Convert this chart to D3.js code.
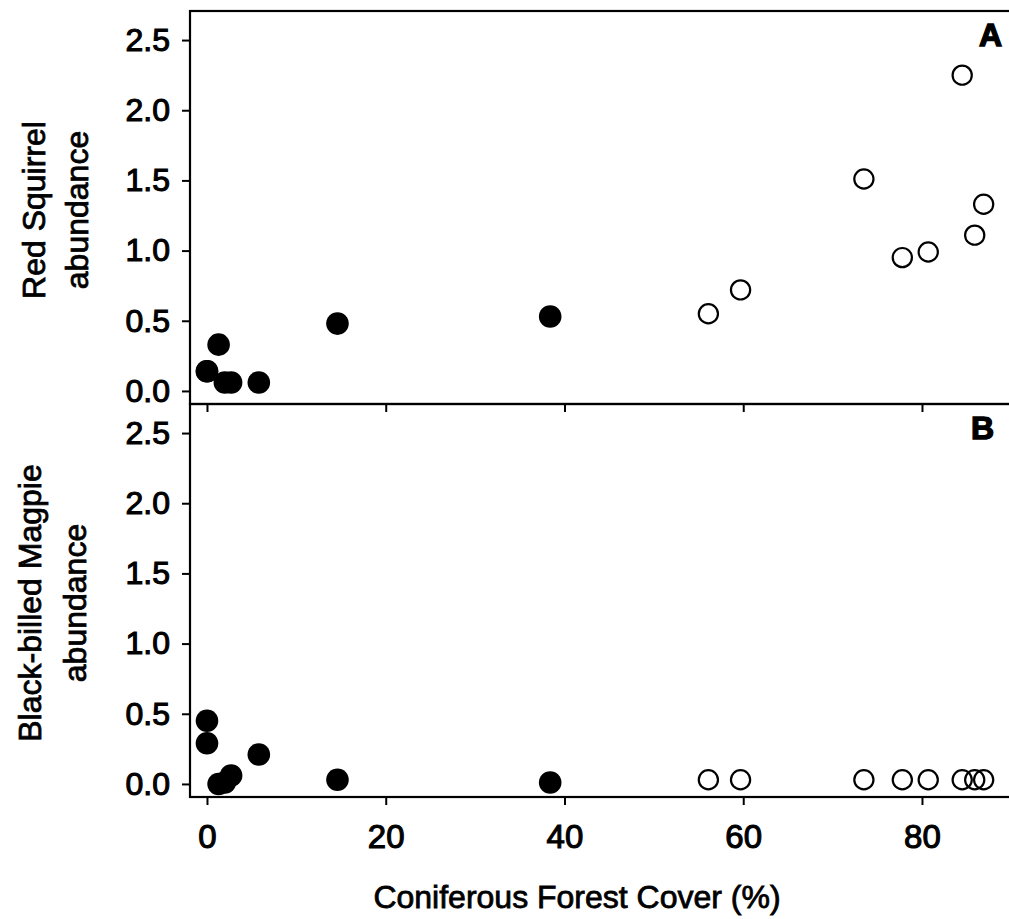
<!DOCTYPE html>
<html>
<head>
<meta charset="utf-8">
<script src="https://cdn.jsdelivr.net/npm/d3@7"></script>
<style>
  body { margin: 0; background: #fff; }
  text { font-family: "Liberation Sans", Arial, sans-serif; fill: #000; }
</style>
</head>
<body>
<div id="chart"></div>
<script>
// Coniferous cover (%) per site, filled = low-cover sites, open = high-cover sites
const filledCover = [0, 0, 1.3, 2.0, 2.7, 5.8, 14.6, 38.4];
const openCover = [56.1, 59.7, 73.5, 77.8, 80.7, 84.5, 85.9, 86.9];

// Red Squirrel abundance (panel A)
const squirrelFilled = [0.14, 0.14, 0.33, 0.06, 0.06, 0.06, 0.48, 0.53];
const squirrelOpen = [0.55, 0.72, 1.51, 0.95, 0.99, 2.25, 1.11, 1.33];

// Black-billed Magpie abundance (panel B)
const magpieFilled = [0.45, 0.29, 0.0, 0.01, 0.06, 0.21, 0.03, 0.01];
const magpieOpen = [0.03, 0.03, 0.03, 0.03, 0.03, 0.03, 0.03, 0.03];

const xTicks = [0, 20, 40, 60, 80];
const yTicks = [0, 0.5, 1.0, 1.5, 2.0, 2.5];

const W = 1009, H = 919;
const left = 190, panelH = 393;
const panelTops = [11, 404];

const svg = d3.select("#chart")
    .append("svg")
    .attr("width", W)
    .attr("height", H);

const x = d3.scaleLinear()
    .domain([-1.9, 90])
    .range([left, left + 8.9375 * 91.9]);

const panels = [
    {label: "A", title: ["Red Squirrel", "abundance"], filled: squirrelFilled, open: squirrelOpen,
     titleY: 210, titleX: [45, 88], labelX: 1002},
    {label: "B", title: ["Black-billed Magpie", "abundance"], filled: magpieFilled, open: magpieOpen,
     titleY: 603, titleX: [41, 86], labelX: 994}
];

panels.forEach((p, i) => {
    const top = panelTops[i];
    const y = d3.scaleLinear()
        .domain([-0.093, 2.707])
        .range([top + panelH, top]);

    const g = svg.append("g");

    // points first, frame on top
    g.selectAll(".filled")
        .data(filledCover.map((c, k) => [c, p.filled[k]]))
        .enter().append("circle")
        .attr("cx", d => x(d[0]))
        .attr("cy", d => y(d[1]))
        .attr("r", 11.3)
        .attr("fill", "#000");

    g.selectAll(".open")
        .data(openCover.map((c, k) => [c, p.open[k]]))
        .enter().append("circle")
        .attr("cx", d => x(d[0]))
        .attr("cy", d => y(d[1]))
        .attr("r", 9.6)
        .attr("fill", "none")
        .attr("stroke", "#000")
        .attr("stroke-width", 2.2);

    // frame
    g.append("rect")
        .attr("x", x.range()[0])
        .attr("y", top)
        .attr("width", x.range()[1] - x.range()[0])
        .attr("height", panelH)
        .attr("fill", "none")
        .attr("stroke", "#000")
        .attr("stroke-width", 2.2);

    // y axis
    const yAxis = g.append("g")
        .attr("transform", `translate(${left},0)`)
        .call(d3.axisLeft(y).tickValues(yTicks).tickFormat(d3.format(".1f")).tickSize(8).tickPadding(12));
    yAxis.select(".domain").remove();
    yAxis.selectAll("line").attr("stroke-width", 2);
    yAxis.selectAll("text")
        .attr("font-size", 32)
        .attr("font-family", '"Liberation Sans", Arial, sans-serif')
        .attr("stroke", "#000").attr("stroke-width", 1.1);

    // x axis ticks at panel bottom
    const xAxis = g.append("g")
        .attr("transform", `translate(0,${top + panelH})`)
        .call(d3.axisBottom(x).tickValues(xTicks).tickSize(8).tickPadding(20)
            .tickFormat(i === 1 ? d3.format("d") : () => ""));
    xAxis.select(".domain").remove();
    xAxis.selectAll("line").attr("stroke-width", 2);
    xAxis.selectAll("text")
        .attr("font-size", 33)
        .attr("font-family", '"Liberation Sans", Arial, sans-serif')
        .attr("stroke", "#000").attr("stroke-width", 1.1);

    // panel letter
    g.append("text")
        .attr("x", p.labelX)
        .attr("y", top + 35)
        .attr("text-anchor", "end")
        .attr("font-size", 32)
        .attr("font-weight", "bold")
        .attr("stroke", "#000").attr("stroke-width", 1.4)
        .text(p.label);

    // y title, two lines
    p.title.forEach((t, k) => {
        g.append("text")
            .attr("transform", `translate(${p.titleX[k]},${p.titleY}) rotate(-90)`)
            .attr("text-anchor", "middle")
            .attr("font-size", 32)
            .attr("stroke", "#000").attr("stroke-width", 0.8)
            .text(t);
    });
});

// x title
svg.append("text")
    .attr("x", 577)
    .attr("y", 908)
    .attr("text-anchor", "middle")
    .attr("font-size", 32)
    .attr("stroke", "#000").attr("stroke-width", 0.8)
    .text("Coniferous Forest Cover (%)");
</script>
</body>
</html>
